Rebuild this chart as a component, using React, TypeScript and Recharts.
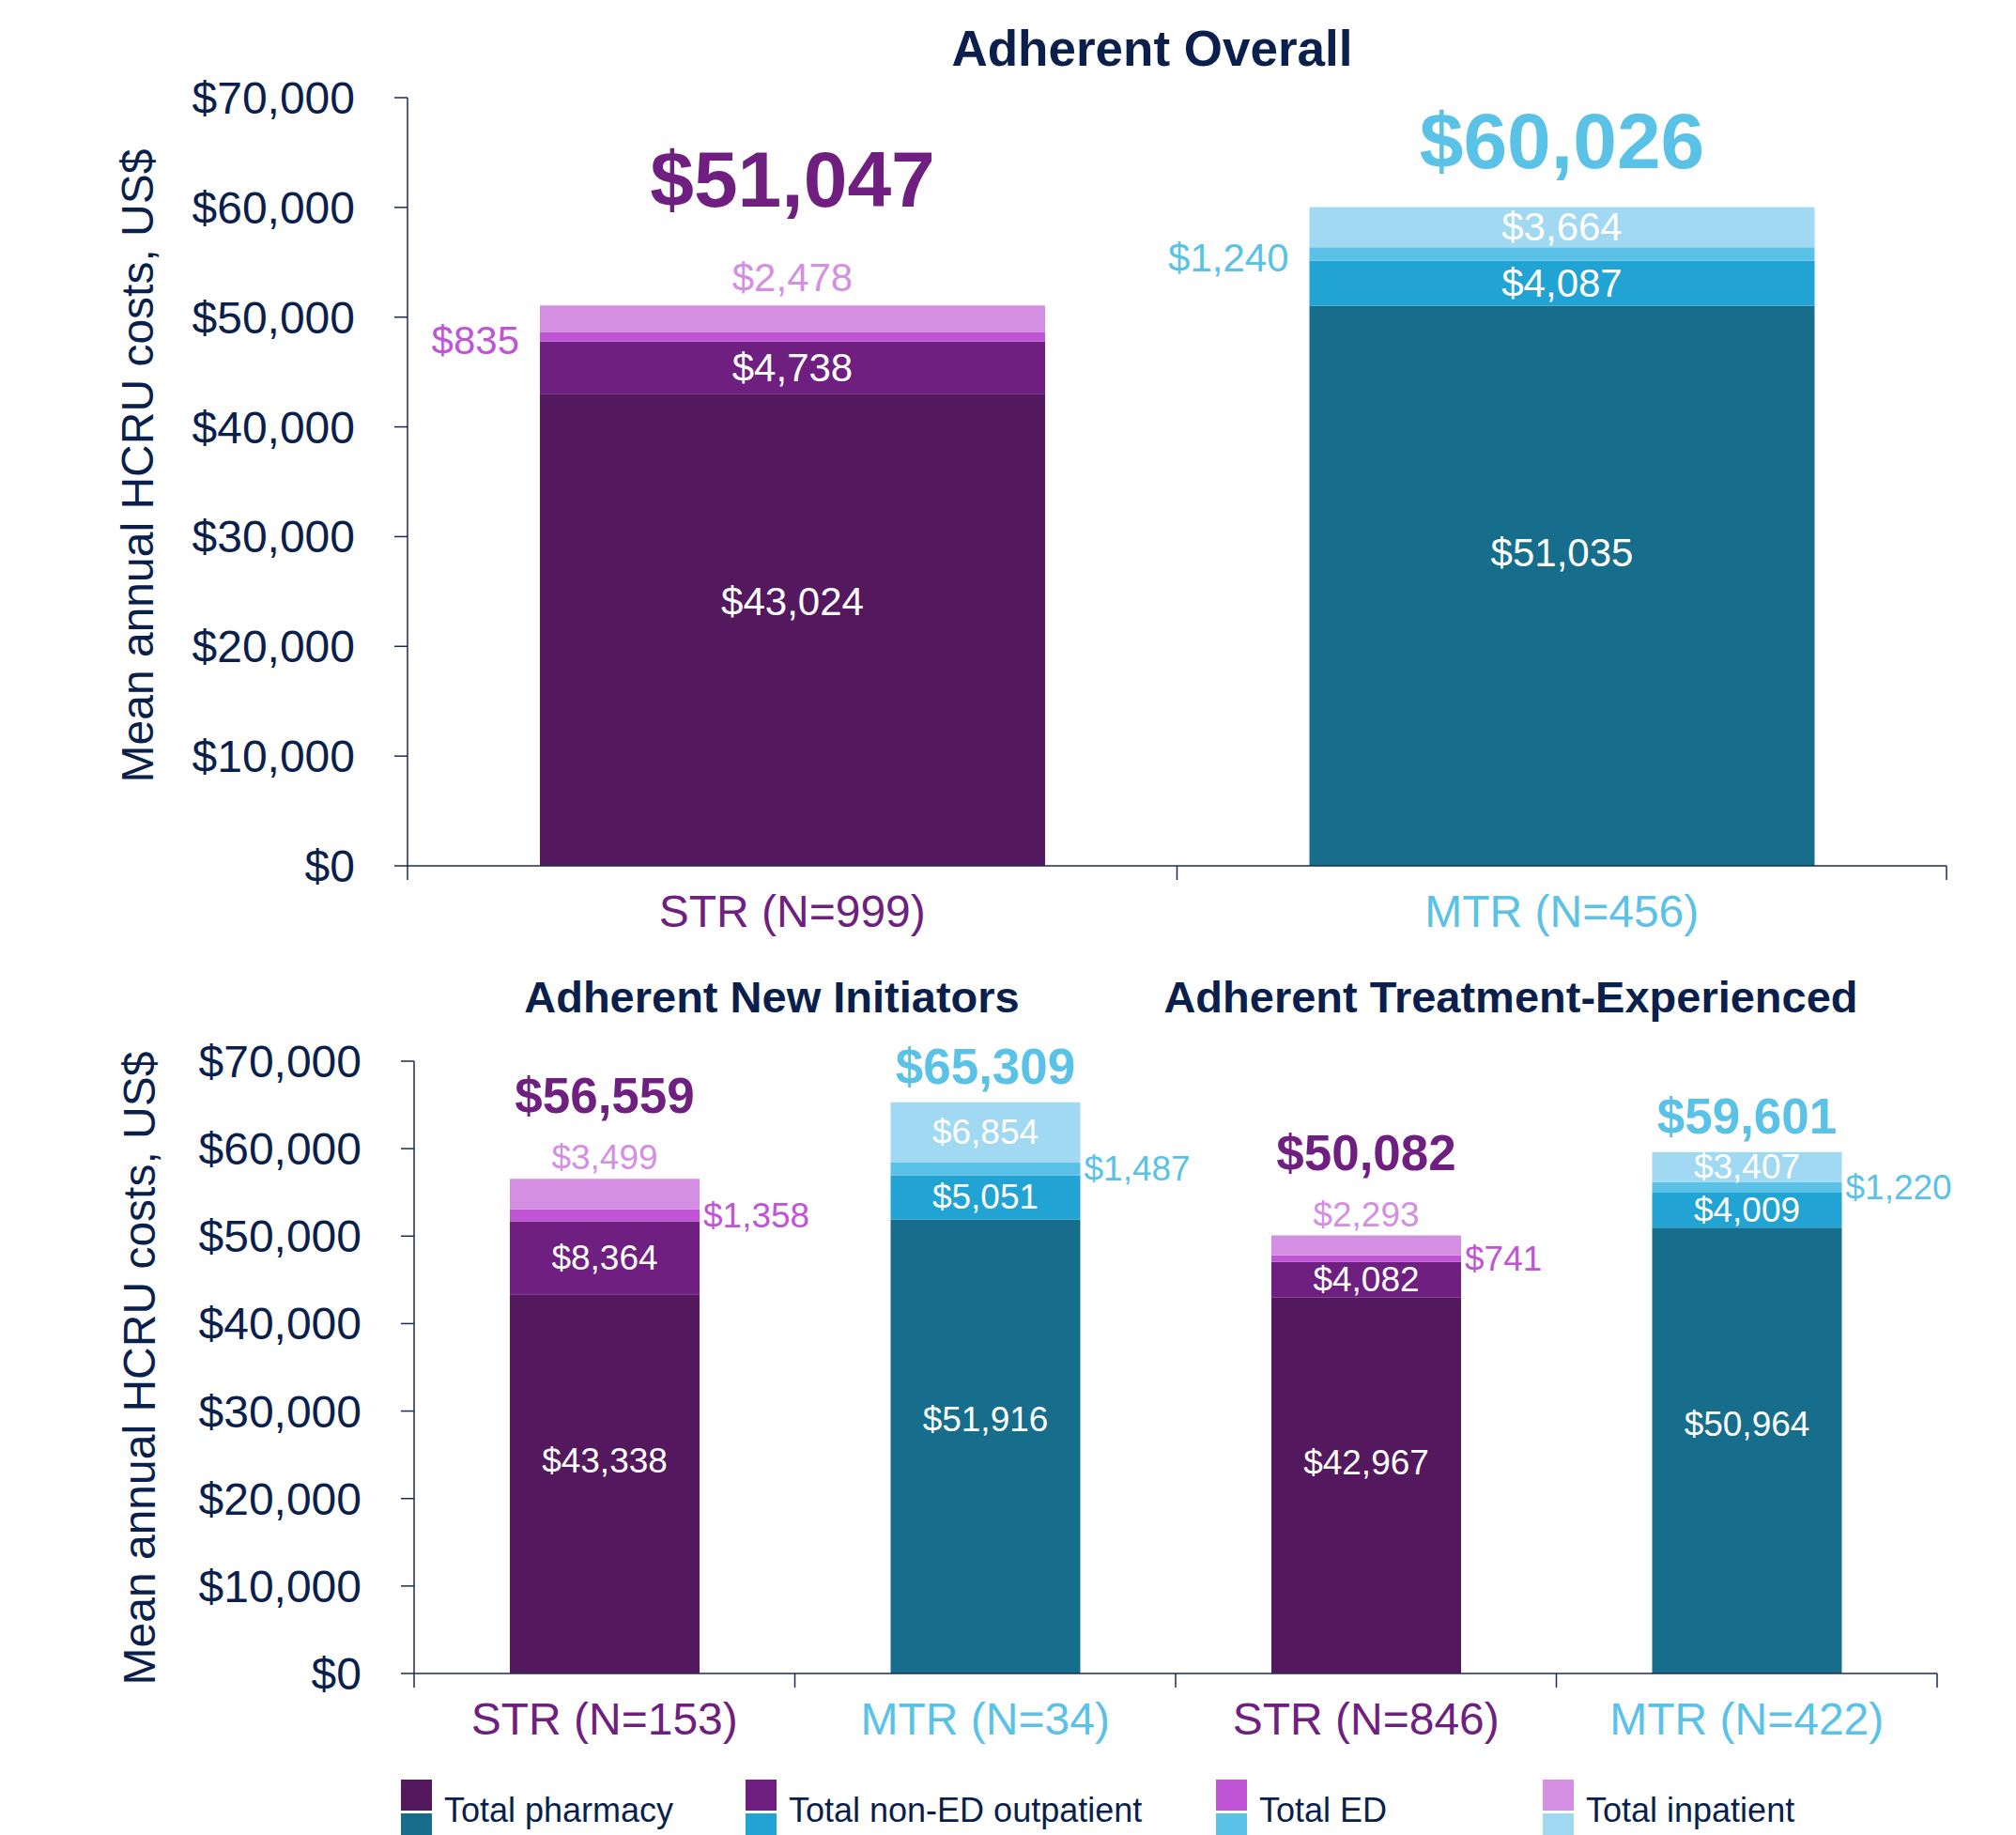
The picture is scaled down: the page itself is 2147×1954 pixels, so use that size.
import { Bar, BarChart, Cell, LabelList, XAxis, YAxis } from 'recharts';

const FONT = '"Liberation Sans", Arial, Helvetica, sans-serif';
const NAVY = '#0B1F4D';
const AXIS = '#1C2B55';

// Adherent overall
const overallCategories = ['STR (N=999)', 'MTR (N=456)'];
const overallPharmacy = [43024, 51035];
const overallOutpatient = [4738, 4087];
const overallEd = [835, 1240];
const overallInpatient = [2478, 3664];
const overallTotals = [51047, 60026];

// Adherent new initiators (first two) + treatment-experienced (last two)
const subgroupCategories = ['STR (N=153)', 'MTR (N=34)', 'STR (N=846)', 'MTR (N=422)'];
const subgroupPharmacy = [43338, 51916, 42967, 50964];
const subgroupOutpatient = [8364, 5051, 4082, 4009];
const subgroupEd = [1358, 1487, 741, 1220];
const subgroupInpatient = [3499, 6854, 2293, 3407];
const subgroupTotals = [56559, 65309, 50082, 59601];

const yTicks = [0, 10000, 20000, 30000, 40000, 50000, 60000, 70000];
const seriesNames = ['Total pharmacy', 'Total non-ED outpatient', 'Total ED', 'Total inpatient'];
const seriesKeys = ['pharmacy', 'outpatient', 'ed', 'inpatient'];

const strColors = ['#54185E', '#6E1F7F', '#BF55D5', '#D48FE3'];
const mtrColors = ['#166E8C', '#21A3D4', '#5BC2E7', '#A0D9F1'];
const STR_TEXT = '#6E1F7F';
const MTR_TEXT = '#5BC2E7';

type Row = { name: string; pharmacy: number; outpatient: number; ed: number; inpatient: number; total: number };

function buildRows(cats: string[], ph: number[], op: number[], ed: number[], ip: number[], tot: number[]): Row[] {
  return cats.map((name, i) => ({ name, pharmacy: ph[i], outpatient: op[i], ed: ed[i], inpatient: ip[i], total: tot[i] }));
}

const overallRows = buildRows(overallCategories, overallPharmacy, overallOutpatient, overallEd, overallInpatient, overallTotals);
const subgroupRows = buildRows(subgroupCategories, subgroupPharmacy, subgroupOutpatient, subgroupEd, subgroupInpatient, subgroupTotals);

const money = (v: number) => '$' + v.toLocaleString('en-US');
const isStr = (name: string) => name.startsWith('STR');

function box(p: any) {
  const vb = p.viewBox ?? p;
  const y = Math.min(vb.y, vb.y + vb.height);
  return { x: vb.x, y, w: vb.width, h: Math.abs(vb.height) };
}

interface ChartProps {
  rows: Row[];
  top: number;
  height: number;
  marginTop: number;
  marginRight: number;
  yAxisWidth: number;
  xAxisHeight: number;
  barSize: number;
  labelSize: number;
  totalSize: number;
  edSide: 'left' | 'right';
  edGap: number;
  strInpatientLift: number;
  strTotalLift: number;
  mtrTotalLift: number;
}

function CostChart(c: ChartProps) {
  const { rows } = c;
  const txt = (x: number, y: number, fill: string, size: number, value: string, anchor = 'middle', bold = false, central = true) => (
    <text
      x={x}
      y={y}
      fill={fill}
      fontSize={size}
      fontFamily={FONT}
      fontWeight={bold ? 700 : 400}
      textAnchor={anchor as any}
      dominantBaseline={central ? 'central' : 'alphabetic'}
    >
      {value}
    </text>
  );

  const pharmacyLabel = (p: any) => {
    const b = box(p);
    const row = rows[p.index];
    return txt(b.x + b.w / 2, b.y + b.h * 0.44, '#ffffff', c.labelSize, money(row.pharmacy));
  };
  const outpatientLabel = (p: any) => {
    const b = box(p);
    const row = rows[p.index];
    return txt(b.x + b.w / 2, b.y + b.h / 2, '#ffffff', c.labelSize, money(row.outpatient));
  };
  const edLabel = (p: any) => {
    const b = box(p);
    const row = rows[p.index];
    const color = isStr(row.name) ? strColors[2] : MTR_TEXT;
    if (c.edSide === 'left') return txt(b.x - c.edGap, b.y + b.h / 2 + 4, color, c.labelSize, money(row.ed), 'end');
    return txt(b.x + b.w + c.edGap, b.y + b.h / 2, color, c.labelSize, money(row.ed), 'start');
  };
  const inpatientLabel = (p: any) => {
    const b = box(p);
    const row = rows[p.index];
    const cx = b.x + b.w / 2;
    if (isStr(row.name)) {
      return (
        <g>
          {txt(cx, b.y - c.strInpatientLift, strColors[3], c.labelSize, money(row.inpatient), 'middle', false, false)}
          {txt(cx, b.y - c.strTotalLift, STR_TEXT, c.totalSize, money(row.total), 'middle', true, false)}
        </g>
      );
    }
    return (
      <g>
        {txt(cx, b.y + b.h / 2, '#ffffff', c.labelSize, money(row.inpatient))}
        {txt(cx, b.y - c.mtrTotalLift, MTR_TEXT, c.totalSize, money(row.total), 'middle', true, false)}
      </g>
    );
  };
  const labelFns = [pharmacyLabel, outpatientLabel, edLabel, inpatientLabel];

  const CategoryTick = (p: any) => {
    const { x, y, payload, index } = p;
    const off = payload?.offset ?? 0;
    return (
      <g>
        <line x1={x - off} x2={x - off} y1={y} y2={y + 15} stroke={AXIS} strokeWidth={1.5} />
        {index === rows.length - 1 && <line x1={x + off} x2={x + off} y1={y} y2={y + 15} stroke={AXIS} strokeWidth={1.5} />}
        <text x={x} y={y + 65} textAnchor="middle" fontSize={48} fontFamily={FONT} fill={isStr(String(payload.value)) ? STR_TEXT : MTR_TEXT}>
          {payload.value}
        </text>
      </g>
    );
  };

  return (
    <div style={{ position: 'absolute', left: 0, top: c.top, width: 2147, height: c.height }}>
      <BarChart
        width={2147}
        height={c.height}
        data={rows}
        margin={{ top: c.marginTop, right: c.marginRight, left: 0, bottom: 0 }}
      >
        <XAxis
          dataKey="name"
          height={c.xAxisHeight}
          interval={0}
          tickLine={false}
          tickSize={0}
          tickMargin={0}
          axisLine={{ stroke: AXIS, strokeWidth: 1.5 }}
          tick={<CategoryTick />}
        />
        <YAxis
          width={c.yAxisWidth}
          domain={[0, 70000]}
          ticks={yTicks}
          tickSize={14}
          tickMargin={42}
          tickFormatter={money}
          axisLine={{ stroke: AXIS, strokeWidth: 1.5 }}
          tickLine={{ stroke: AXIS, strokeWidth: 1.5 }}
          tick={{ fill: NAVY, fontSize: 48, fontFamily: FONT }}
        />
        {seriesKeys.map((key, si) => (
          <Bar key={key} dataKey={key} stackId="cost" barSize={c.barSize} isAnimationActive={false}>
            {rows.map((r) => (
              <Cell key={r.name} fill={isStr(r.name) ? strColors[si] : mtrColors[si]} />
            ))}
            <LabelList dataKey={key} content={labelFns[si]} />
          </Bar>
        ))}
      </BarChart>
    </div>
  );
}

const legendX = [427, 794, 1295, 1643];

export default function App() {
  return (
    <div style={{ position: 'absolute', left: 0, top: 0, width: 2147, height: 1954, overflow: 'hidden', background: '#ffffff', fontFamily: FONT }}>
      <CostChart
        rows={overallRows}
        top={0}
        height={1000}
        marginTop={104}
        marginRight={74}
        yAxisWidth={434}
        xAxisHeight={78}
        barSize={538}
        labelSize={42}
        totalSize={84}
        edSide="left"
        edGap={22}
        strInpatientLift={15}
        strTotalLift={105}
        mtrTotalLift={42}
      />
      <CostChart
        rows={subgroupRows}
        top={1080}
        height={790}
        marginTop={50}
        marginRight={84}
        yAxisWidth={441}
        xAxisHeight={88}
        barSize={202}
        labelSize={37}
        totalSize={53}
        edSide="right"
        edGap={4}
        strInpatientLift={10}
        strTotalLift={70}
        mtrTotalLift={20}
      />
      <svg width={2147} height={1954} style={{ position: 'absolute', left: 0, top: 0, pointerEvents: 'none' }}>
        <text x={1227} y={70} textAnchor="middle" fontSize={53} fontWeight={700} fill={NAVY} fontFamily={FONT}>
          Adherent Overall
        </text>
        <text x={822} y={1078} textAnchor="middle" fontSize={47} fontWeight={700} fill={NAVY} fontFamily={FONT}>
          Adherent New Initiators
        </text>
        <text x={1609} y={1078} textAnchor="middle" fontSize={47} fontWeight={700} fill={NAVY} fontFamily={FONT}>
          Adherent Treatment-Experienced
        </text>
        <text x={146} y={496} transform="rotate(-90 146 496)" textAnchor="middle" dominantBaseline="central" fontSize={48} fill={NAVY} fontFamily={FONT}>
          Mean annual HCRU costs, US$
        </text>
        <text x={148} y={1457} transform="rotate(-90 148 1457)" textAnchor="middle" dominantBaseline="central" fontSize={48} fill={NAVY} fontFamily={FONT}>
          Mean annual HCRU costs, US$
        </text>
        {seriesNames.map((name, i) => (
          <g key={name}>
            <rect x={legendX[i]} y={1895} width={33} height={33} fill={strColors[i]} />
            <rect x={legendX[i]} y={1931} width={33} height={23} fill={mtrColors[i]} />
            <text x={legendX[i] + 46} y={1940} fontSize={36} fill={NAVY} fontFamily={FONT}>
              {name}
            </text>
          </g>
        ))}
      </svg>
    </div>
  );
}
